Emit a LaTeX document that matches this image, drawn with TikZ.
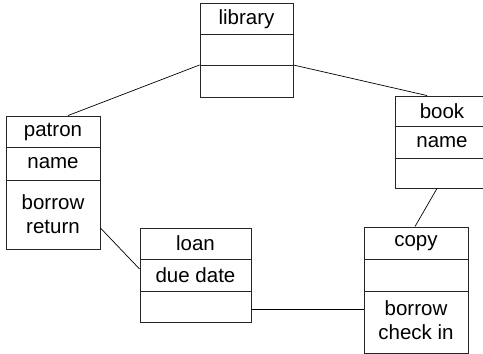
\documentclass[tikz,border=0pt]{standalone}
\usepackage{fontspec}
\setmainfont{Liberation Sans}
\begin{document}
\begin{tikzpicture}[x=1pt,y=-1pt,
  cls/.style={draw=black!85,line width=0.9pt,inner sep=0pt,rectangle},
  lbl/.style={font=\fontsize{20.5}{24}\selectfont,align=center,inner sep=0pt},
  conn/.style={draw=black,line width=0.7pt}]
\clip (0,0) rectangle (483,354);
% library
\node[cls,minimum width=93pt,minimum height=93.5pt] (lib) at (246.5,50.25) {};
\draw[black!85,line width=0.9pt] (lib.west |- 0,34) -- (lib.east |- 0,34);
\draw[black!85,line width=0.9pt] (lib.west |- 0,65) -- (lib.east |- 0,65);
\node[lbl] (libt) at (246.5,19) {library};
% patron
\node[cls,minimum width=94pt,minimum height=133pt] (pat) at (53,182.5) {};
\draw[black!85,line width=0.9pt] (pat.west |- 0,147) -- (pat.east |- 0,147);
\draw[black!85,line width=0.9pt] (pat.west |- 0,180) -- (pat.east |- 0,180);
\node[lbl] (patt) at (53,131.5) {patron};
\node[lbl] (patn) at (53,163.5) {name};
\node[lbl] (patm) at (53,214.5) {borrow\\return};
% book
\node[cls,minimum width=94pt,minimum height=92pt] (book) at (442,142) {};
\draw[black!85,line width=0.9pt] (book.west |- 0,126) -- (book.east |- 0,126);
\draw[black!85,line width=0.9pt] (book.west |- 0,158) -- (book.east |- 0,158);
\node[lbl] (bookt) at (442,111) {book};
\node[lbl] (bookn) at (442,142) {name};
% loan
\node[cls,minimum width=111pt,minimum height=94pt] (loan) at (195.5,275) {};
\draw[black!85,line width=0.9pt] (loan.west |- 0,259) -- (loan.east |- 0,259);
\draw[black!85,line width=0.9pt] (loan.west |- 0,291) -- (loan.east |- 0,291);
\node[lbl] (loant) at (195.5,243.5) {loan};
\node[lbl] (loana) at (195.5,275) {due date};
% copy
\node[cls,minimum width=104pt,minimum height=126pt] (copy) at (416,290) {};
\draw[black!85,line width=0.9pt] (copy.west |- 0,259) -- (copy.east |- 0,259);
\draw[black!85,line width=0.9pt] (copy.west |- 0,291) -- (copy.east |- 0,291);
\node[lbl] (copyt) at (416,243) {copy};
\node[lbl] (copym) at (416,320) {borrow\\check in};
% connectors
\draw[conn] (lib.west |- 0,65) -- (pat.north -| 68,0);
\draw[conn] (lib.east |- 0,65) -- (book.north -| 427,0);
\draw[conn] (book.south -| 437,0) -- (copy.north -| 415,0);
\draw[conn] (pat.east |- 0,228) -- (loan.west |- 0,269);
\draw[conn] (loan.east |- 0,309) -- (copy.west |- 0,309);
\end{tikzpicture}
\end{document}
